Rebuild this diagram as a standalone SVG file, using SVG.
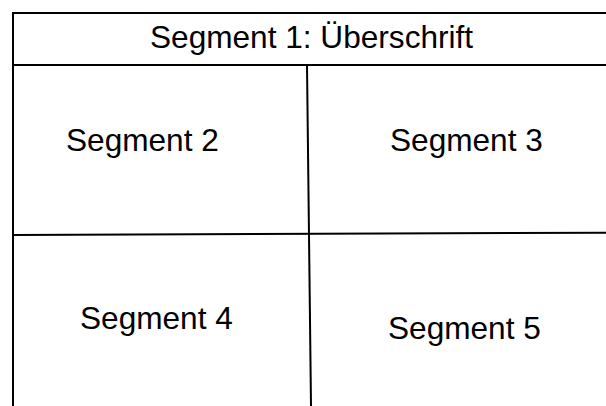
<svg xmlns="http://www.w3.org/2000/svg" width="606" height="406" viewBox="0 0 606 406">
<style>
.ln{stroke:#000;stroke-width:2;fill:none}
.t{font-family:"Liberation Sans",Arial,sans-serif;font-size:31.6px;fill:#000}
</style>
<rect width="606" height="406" fill="#fff"/>
<g id="connectors">
<line class="ln" x1="13" y1="13" x2="606" y2="13"/>
<line class="ln" x1="13" y1="12" x2="13" y2="406"/>
<line class="ln" x1="13" y1="65" x2="606" y2="65"/>
<line class="ln" x1="307" y1="65" x2="311" y2="406"/>
<line class="ln" x1="13" y1="235" x2="606" y2="232.7"/>
</g>
<g id="seg1"><text class="t" x="150" y="47.5">Segment 1: Überschrift</text></g>
<g id="seg2"><text class="t" x="66" y="151">Segment 2</text></g>
<g id="seg3"><text class="t" x="390" y="151">Segment 3</text></g>
<g id="seg4"><text class="t" x="80" y="329">Segment 4</text></g>
<g id="seg5"><text class="t" x="388" y="339">Segment 5</text></g>
</svg>
